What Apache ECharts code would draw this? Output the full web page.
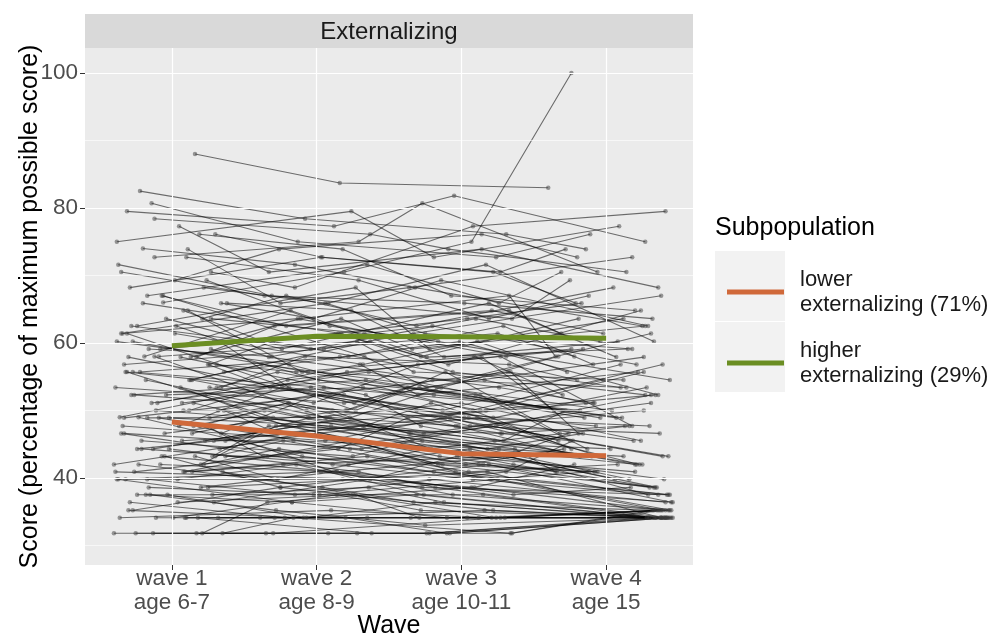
<!DOCTYPE html>
<html>
<head>
<meta charset="utf-8">
<script src="https://cdn.jsdelivr.net/npm/echarts@6/dist/echarts.min.js"></script>
<style>
  html, body { margin: 0; padding: 0; background: #fff; }
  #chart { width: 1000px; height: 636px; }
</style>
</head>
<body>
<div id="chart"></div>
<script>
var waves = [1, 2, 3, 4];
var waveLabels = ['wave 1\nage 6-7', 'wave 2\nage 8-9', 'wave 3\nage 10-11', 'wave 4\nage 15'];
var yTicks = [40, 60, 80, 100];
var yMinor = [30, 50, 70, 90];

// class means
var lowerMean = [48.3, 46.2, 43.6, 43.3];
var higherMean = [59.6, 61.0, 60.9, 60.7];

// individual trajectories (score at each wave, null = missing)
var people = [
  [79.5, 77.3, 81.8, 75.0], [82.5, 78.4, 76.1, 73.9], [88.0, 83.7, null, 83.0], [75.0, 79.5, 72.7, 77.3],
  [77.3, 70.5, 73.9, 68.2], [72.7, 75.0, 80.7, 70.5], [70.5, 68.2, 77.3, 79.5], [68.2, 72.7, 70.5, 65.9],
  [73.9, 65.9, 68.2, 72.7], [66.0, 70.5, 75.0, 100.0], [65.9, 63.6, 69.3, 62.5], [67.0, 71.6, 65.9, 70.5],
  [63.6, 67.0, 62.5, 68.2], [61.4, 65.9, 71.6, 60.2], [64.8, 60.2, 63.6, 65.9], [62.5, 68.2, 59.1, 63.6],
  [60.2, 63.6, 67.0, 58.0], [59.1, 61.4, 56.8, 64.8], [57.9, 62.5, 64.8, 61.4], [56.8, 59.1, 61.4, 67.0],
  [61.4, 56.8, 60.2, 55.7], [58.0, 64.8, 57.9, 59.1], [55.7, 58.0, 62.5, 56.8], [60.2, 55.7, 54.5, 61.4],
  [54.5, 60.2, 58.0, 63.6], [63.6, 59.1, 65.9, 57.9], [69.3, 62.5, 60.2, 54.5], [71.6, 67.0, 63.6, 69.3],
  [76.1, 73.9, 67.0, 64.8], [80.7, 75.0, 72.7, 76.1],
  [53.4, 55.7, 50.0, 52.3], [52.3, 50.0, 53.4, 48.9], [51.1, 53.4, 47.7, 50.0], [50.0, 47.7, 51.1, 45.5],
  [48.9, 51.1, 46.6, 47.7], [47.7, 45.5, 48.9, 43.2], [46.6, 48.9, 44.3, 46.6], [45.5, 43.2, 45.5, 42.0],
  [44.3, 46.6, 42.0, 44.3], [43.2, 40.9, 43.2, 39.8], [42.0, 44.3, 40.9, 37.5], [40.9, 39.8, 38.6, 42.0],
  [39.8, 42.0, 37.5, 34.1], [38.6, 37.5, 39.8, 35.2], [37.5, 38.6, 36.4, 34.1], [36.4, 34.1, 35.2, 34.1],
  [34.1, 34.1, 34.1, 34.1], [34.1, 35.2, 34.1, 35.2], [31.8, 31.8, 31.8, 34.1], [31.8, 34.1, 31.8, 35.2],
  [31.8, 31.8, 34.1, 34.1], [34.1, 31.8, 31.8, 34.1], [37.5, 34.1, 34.1, 35.2], [55.7, 52.3, 48.9, 45.5],
  [56.8, 53.4, 50.0, 47.7], [54.5, 48.9, 45.5, 42.0], [53.4, 47.7, 43.2, 40.9], [52.3, 54.5, 51.1, 48.9],
  [50.0, 52.3, 47.7, 43.2], [48.9, 44.3, 42.0, 38.6], [47.7, 50.0, 45.5, 44.3], [46.6, 42.0, 39.8, 37.5],
  [45.5, 47.7, 43.2, 46.6], [44.3, 40.9, 38.6, 34.1], [43.2, 45.5, 40.9, 42.0], [42.0, 38.6, 36.4, 35.2],
  [40.9, 43.2, 39.8, 40.9], [39.8, 36.4, 34.1, 34.1], [38.6, 40.9, 37.5, 38.6], [37.5, 35.2, 33.0, 34.1],
  [59.1, 54.5, 52.3, 50.0], [57.9, 51.1, 54.5, 53.4], [62.5, 57.9, 53.4, 51.1], [65.9, 61.4, 55.7, 52.3],
  [53.4, 58.0, 56.8, 54.5], [51.1, 56.8, 52.3, 55.7], [50.0, 54.5, 57.9, 50.0], [48.9, 52.3, 50.0, 56.8],
  [47.7, 43.2, 47.7, 52.3], [46.6, 50.0, 53.4, 48.9], [45.5, 48.9, 51.1, 45.5], [44.3, 47.7, 45.5, 50.0],
  [43.2, 39.8, 44.3, 47.7], [42.0, 46.6, 48.9, 43.2], [40.9, 45.5, 42.0, 38.6], [39.8, 37.5, 40.9, 45.5],
  [36.4, 39.8, 43.2, 40.9], [35.2, 38.6, 42.0, 36.4], [34.1, 37.5, 35.2, 34.1], [31.8, 36.4, 38.6, 35.2],
  [58.0, 48.9, 46.6, 43.2], [60.2, 53.4, 48.9, 53.4], [61.4, 50.0, 55.7, 46.6], [64.8, 55.7, 51.1, 48.9],
  [67.0, 58.0, 53.4, 57.9], [56.8, 60.2, 54.5, 51.1], [55.7, 57.9, 60.2, 52.3], [54.5, 51.1, 56.8, 59.1],
  [49.0, 55.7, 58.0, 47.7], [47.7, 53.4, 49.0, 54.5],
  [58.0, 60.2, 55.7, 54.5], [56.8, 55.7, 58.0, 52.3], [55.7, 53.4, 51.1, 56.8], [54.5, 56.8, 53.4, 50.0],
  [53.4, 51.1, 55.7, 46.6], [52.3, 48.9, 46.6, 51.1], [51.1, 55.7, 52.3, 44.3], [50.0, 46.6, 48.9, 42.0],
  [48.9, 47.7, 44.3, 40.9], [47.7, 51.1, 46.6, 39.8], [46.6, 44.3, 47.7, 43.2], [45.5, 46.6, 42.0, 40.9],
  [44.3, 42.0, 44.3, 38.6], [43.2, 47.7, 46.6, 45.5], [42.0, 40.9, 39.8, 36.4], [40.9, 42.0, 43.2, 37.5],
  [39.8, 40.9, 38.6, 36.4], [38.6, 39.8, 40.9, 34.1], [37.5, 36.4, 37.5, 34.1], [36.4, 37.5, 34.1, 35.2],
  [35.2, 34.1, 36.4, 34.1], [34.1, 34.1, 34.1, 35.2], [34.1, 34.1, 34.1, 34.1], [31.8, 31.8, 31.8, 34.1],
  [31.8, 31.8, 31.8, 35.2], [34.1, 34.1, 31.8, 34.1], [37.5, 37.5, 37.5, 34.1], [40.9, 37.5, 34.1, 34.1],
  [43.2, 38.6, 35.2, 34.1], [47.7, 40.9, 37.5, 35.2], [61.4, 63.6, 58.0, 59.1], [63.6, 61.4, 62.5, 56.8],
  [59.1, 58.0, 63.6, 60.2], [57.9, 63.6, 59.1, 62.5], [62.5, 59.1, 61.4, 58.0], [65.9, 64.8, 57.9, 60.2],
  [67.0, 62.5, 64.8, 61.4], [68.2, 65.9, 61.4, 59.1], [70.5, 67.0, 65.9, 63.6], [72.7, 69.3, 63.6, 67.0],
  [74.0, 71.6, 68.2, 62.5], [76.1, 72.7, 70.5, 73.9], [78.4, 76.1, 73.9, 70.5], [69.3, 73.9, 76.1, 72.7],
  [53.4, 50.0, 44.3, 39.8], [55.7, 48.9, 42.0, 38.6], [51.1, 45.5, 40.9, 37.5], [49.0, 43.2, 39.8, 35.2],
  [57.9, 52.3, 47.7, 42.0], [60.2, 56.8, 50.0, 44.3], [46.6, 52.3, 55.7, 53.4], [44.3, 48.9, 53.4, 58.0],
  [42.0, 47.7, 50.0, 55.7], [40.9, 44.3, 48.9, 51.1], [50.0, 50.0, 48.9, 47.7], [52.3, 53.4, 52.3, 50.0],
  [45.5, 45.5, 44.3, 43.2], [48.9, 49.0, 47.7, 46.6], [43.2, 43.2, 42.0, 40.9], [39.8, 39.8, 38.6, 37.5]
];

// horizontal jitter of each plotted point (in wave units)
var jitter = [
  [-0.31, 0.12, -0.05, 0.27], [-0.22, -0.08, 0.31, -0.14], [0.16, 0.16, 0, -0.40], [-0.38, 0.24, -0.19, 0.09],
  [0.05, -0.33, 0.14, 0.36], [-0.12, 0.29, -0.27, -0.06], [0.27, -0.15, 0.08, 0.41], [-0.29, 0.03, 0.22, -0.21],
  [0.11, -0.25, -0.36, 0.18], [-0.06, 0.19, 0.07, -0.24], [0.34, -0.02, -0.14, 0.29], [-0.17, 0.35, 0.26, -0.31],
  [0.21, -0.21, -0.31, 0.05], [-0.35, 0.08, 0.17, 0.33], [0.08, -0.37, 0.04, -0.17], [-0.24, 0.27, -0.22, 0.12],
  [0.29, -0.11, 0.33, -0.35], [-0.08, 0.15, -0.09, 0.24], [0.17, -0.29, 0.21, -0.02], [-0.33, 0.05, -0.33, 0.38],
  [0.02, 0.32, 0.11, -0.27], [-0.19, -0.18, -0.24, 0.15], [0.36, 0.22, 0.29, -0.09], [-0.27, -0.06, -0.02, 0.31],
  [0.13, 0.37, -0.28, -0.19], [-0.04, -0.24, 0.19, 0.07], [0.24, 0.09, -0.16, 0.44], [-0.37, -0.31, 0.35, -0.25],
  [0.19, 0.18, -0.07, 0.2], [-0.14, -0.13, 0.24, -0.11],
  [0.31, -0.27, 0.13, 0.34], [-0.26, 0.21, -0.29, -0.04], [0.07, -0.04, 0.06, 0.26], [-0.11, 0.33, -0.21, -0.33],
  [0.26, -0.19, 0.28, 0.13], [-0.34, 0.06, -0.11, 0.39], [0.14, -0.35, 0.18, -0.16], [-0.21, 0.25, -0.34, 0.21],
  [0.33, -0.09, 0.03, -0.29], [-0.07, 0.14, 0.32, 0.06], [0.22, -0.26, -0.19, 0.43], [-0.39, 0.31, 0.09, -0.22],
  [0.04, -0.14, -0.26, 0.35], [-0.16, 0.02, 0.25, 0.45], [0.28, 0.36, -0.12, 0.28], [-0.29, -0.22, 0.16, 0.4],
  [0.1, -0.39, -0.35, 0.42], [-0.36, 0.1, 0.21, 0.37], [-0.25, 0.28, -0.08, 0.44], [0.35, -0.16, 0.34, 0.32],
  [-0.13, -0.3, 0.27, 0.46], [0.18, 0.38, -0.22, 0.39], [-0.03, -0.07, 0.12, 0.35], [-0.32, 0.19, 0.02, 0.19],
  [0.25, -0.32, -0.31, -0.07], [-0.18, 0.07, 0.23, 0.25], [0.06, -0.21, -0.15, -0.34], [-0.28, 0.34, 0.37, 0.11],
  [0.32, -0.01, -0.04, -0.18], [-0.09, 0.23, 0.15, 0.3], [0.15, -0.36, -0.27, 0.03], [-0.35, 0.11, 0.08, 0.36],
  [0.23, -0.12, 0.3, -0.26], [-0.02, 0.29, -0.18, 0.41], [0.3, -0.23, 0.05, 0.08], [-0.23, 0.04, -0.33, 0.33],
  [0.09, 0.35, 0.2, -0.12], [-0.38, -0.17, -0.1, 0.38], [0.2, 0.13, 0.36, 0.17], [-0.15, -0.28, -0.25, 0.43],
  [0.27, 0.01, 0.1, -0.3], [-0.3, 0.26, -0.2, 0.14], [0.03, -0.33, 0.26, -0.08], [-0.2, 0.17, -0.06, 0.27],
  [0.34, -0.08, 0.33, -0.2], [-0.1, 0.3, -0.3, 0.22], [0.12, -0.2, 0.14, -0.36], [-0.33, 0.09, -0.13, 0.1],
  [0.24, -0.37, 0.24, 0.31], [-0.05, 0.2, -0.37, -0.15], [0.37, -0.05, 0.0, 0.24], [-0.24, 0.32, 0.29, -0.28],
  [0.16, -0.27, -0.23, 0.16], [-0.4, 0.0, 0.11, -0.05], [0.08, 0.24, -0.16, 0.34], [-0.17, -0.15, 0.31, -0.23],
  [0.29, 0.37, -0.03, 0.2], [-0.27, -0.25, 0.19, 0.45], [0.01, 0.14, -0.28, 0.38], [0.21, -0.34, 0.07, 0.41],
  [-0.12, 0.06, -0.35, -0.1], [0.33, -0.19, 0.22, 0.28], [-0.31, 0.27, -0.11, -0.32], [0.11, -0.1, 0.35, 0.07],
  [-0.06, 0.33, -0.24, 0.26], [0.26, -0.3, 0.16, -0.14], [-0.22, 0.16, -0.01, 0.36], [0.14, -0.02, -0.3, -0.24],
  [-0.36, 0.21, 0.27, 0.18], [0.05, -0.24, -0.14, -0.02],
  [-0.09, 0.28, -0.33, 0.12], [0.31, -0.14, 0.09, -0.3], [-0.27, 0.05, 0.28, 0.39], [0.12, -0.38, -0.17, 0.04],
  [-0.39, 0.19, 0.34, -0.19], [0.23, -0.06, -0.26, 0.31], [-0.14, 0.36, 0.13, -0.13], [0.36, -0.27, -0.08, 0.23],
  [-0.02, 0.1, 0.37, -0.35], [0.19, -0.2, -0.36, 0.16], [-0.33, 0.31, 0.2, 0.43], [0.07, -0.11, -0.13, -0.08],
  [-0.21, 0.22, 0.06, 0.35], [0.28, -0.33, 0.27, -0.25], [-0.08, 0.14, -0.22, 0.41], [0.14, -0.23, 0.32, 0.29],
  [-0.37, 0.03, -0.03, 0.46], [0.25, 0.3, 0.18, 0.38], [-0.18, -0.17, -0.31, 0.33], [0.04, 0.25, 0.24, 0.44],
  [-0.3, -0.09, -0.18, 0.4], [0.32, 0.35, 0.3, 0.36], [-0.11, -0.29, 0.04, 0.42], [0.17, 0.08, -0.24, 0.3],
  [-0.4, -0.35, 0.35, 0.38], [0.09, 0.2, -0.1, 0.45], [-0.24, -0.02, 0.15, 0.34], [0.35, 0.27, -0.29, 0.41],
  [-0.05, -0.25, 0.22, 0.37], [0.2, 0.12, -0.06, 0.43], [-0.34, -0.13, 0.31, -0.16], [0.27, 0.33, -0.2, 0.21],
  [-0.16, -0.31, 0.1, -0.04], [0.13, 0.17, -0.34, 0.27], [-0.28, -0.04, 0.25, -0.22], [0.38, 0.24, -0.12, 0.08],
  [-0.07, -0.21, 0.33, -0.31], [0.22, 0.06, -0.25, 0.18], [-0.35, -0.36, 0.02, 0.32], [0.1, 0.29, 0.19, -0.12],
  [-0.2, -0.15, -0.32, 0.25], [0.3, 0.04, 0.27, -0.28], [-0.12, 0.37, -0.09, 0.14], [0.02, -0.26, 0.14, -0.2],
  [0.26, 0.11, -0.21, 0.4], [-0.31, -0.3, 0.36, 0.33], [0.15, 0.26, -0.04, 0.44], [-0.23, -0.1, 0.21, 0.39],
  [0.06, 0.34, -0.28, 0.2], [-0.38, -0.19, 0.08, -0.24], [0.34, 0.0, 0.32, 0.1], [-0.13, 0.23, -0.14, -0.33],
  [0.2, -0.28, 0.17, 0.26], [-0.26, 0.15, -0.37, -0.09], [0.08, -0.07, 0.05, 0.3], [-0.04, 0.32, -0.19, -0.18],
  [0.29, -0.16, 0.26, 0.12], [-0.17, 0.09, -0.02, 0.37], [0.37, -0.34, 0.12, -0.06], [-0.32, 0.18, -0.27, 0.42]
];

var myChart = echarts.init(document.getElementById('chart'));
var font = "'Liberation Sans', Arial, sans-serif";

var series = [];

// panel grid lines
series.push({
  type: 'line', data: [], silent: true, z: 1,
  markLine: {
    silent: true, symbol: 'none', animation: false,
    label: { show: false },
    data: yMinor.map(function (v) { return { yAxis: v, lineStyle: { color: '#fff', width: 0.6, type: 'solid' } }; })
      .concat(yTicks.map(function (v) { return { yAxis: v, lineStyle: { color: '#fff', width: 1.2, type: 'solid' } }; }))
      .concat(waves.map(function (v) { return { xAxis: v, lineStyle: { color: '#fff', width: 1.2, type: 'solid' } }; }))
  }
});

people.forEach(function (row, i) {
  var pts = [];
  row.forEach(function (v, k) {
    if (v !== null) pts.push([waves[k] + jitter[i][k], v]);
  });
  series.push({
    type: 'line',
    data: pts,
    silent: true,
    z: 2,
    symbol: 'circle',
    symbolSize: 4.5,
    showAllSymbol: true,
    itemStyle: { color: 'rgba(60,60,60,0.5)' },
    lineStyle: { color: 'rgba(0,0,0,0.55)', width: 1.1 },
    emphasis: { disabled: true }
  });
});

series.push({
  name: 'lower\nexternalizing (71%)',
  type: 'line', z: 5, silent: true,
  data: waves.map(function (w, k) { return [w, lowerMean[k]]; }),
  symbol: 'none',
  lineStyle: { color: '#D0693A', width: 5 },
  itemStyle: { color: '#D0693A' }
});
series.push({
  name: 'higher\nexternalizing (29%)',
  type: 'line', z: 5, silent: true,
  data: waves.map(function (w, k) { return [w, higherMean[k]]; }),
  symbol: 'none',
  lineStyle: { color: '#6B8E23', width: 5 },
  itemStyle: { color: '#6B8E23' }
});

var option = {
  animation: false,
  grid: {
    left: 85, right: 307, top: 48, bottom: 71,
    outerBoundsMode: 'none', containLabel: false,
    show: true, backgroundColor: '#EBEBEB', borderWidth: 0
  },
  xAxis: {
    type: 'value', min: 0.4, max: 4.6,
    name: 'Wave', nameLocation: 'middle', nameGap: 49, nameMoveOverlap: false,
    nameTextStyle: { fontFamily: font, fontSize: 25, color: '#000', verticalAlign: 'top' },
    axisLine: { show: false },
    splitLine: { show: false },
    axisTick: { show: true, customValues: waves, length: 5, lineStyle: { color: '#333' } },
    axisLabel: {
      customValues: waves,
      formatter: function (v) { return waveLabels[Math.round(v) - 1]; },
      fontFamily: font, fontSize: 22.5, color: '#4D4D4D', lineHeight: 24, margin: 2
    }
  },
  yAxis: {
    type: 'value', min: 27.1, max: 103.7,
    name: 'Score (percentage of maximum possible score)', nameLocation: 'middle', nameGap: 42,
    nameRotate: 90, nameMoveOverlap: false,
    nameTextStyle: { fontFamily: font, fontSize: 25, color: '#000', verticalAlign: 'bottom' },
    axisLine: { show: false },
    splitLine: { show: false },
    axisTick: { show: true, customValues: yTicks, length: 5, lineStyle: { color: '#333' } },
    axisLabel: {
      customValues: yTicks,
      fontFamily: font, fontSize: 22.5, color: '#4D4D4D', margin: 7
    }
  },
  legend: {
    orient: 'vertical',
    left: 722, top: 262,
    itemWidth: 57, itemHeight: 5, itemGap: 21,
    icon: 'rect',
    selectedMode: false,
    data: ['lower\nexternalizing (71%)', 'higher\nexternalizing (29%)'],
    textStyle: { fontFamily: font, fontSize: 22, color: '#1a1a1a', lineHeight: 25, padding: [0, 0, 0, 11] }
  },
  graphic: [
    { type: 'rect', left: 85, top: 14, shape: { width: 608, height: 34 }, style: { fill: '#D9D9D9' }, z: -1 },
    { type: 'text', x: 389, y: 32, style: { text: 'Externalizing', font: '24px ' + font, fill: '#1a1a1a', align: 'center', verticalAlign: 'middle' } },
    { type: 'text', x: 715, y: 228, style: { text: 'Subpopulation', font: '25px ' + font, fill: '#000', verticalAlign: 'middle' } },
    { type: 'rect', left: 715, top: 251, shape: { width: 70, height: 70 }, style: { fill: '#F2F2F2' }, z: -1 },
    { type: 'rect', left: 715, top: 322, shape: { width: 70, height: 70 }, style: { fill: '#F2F2F2' }, z: -1 }
  ],
  series: series
};

myChart.setOption(option);
</script>
</body>
</html>
